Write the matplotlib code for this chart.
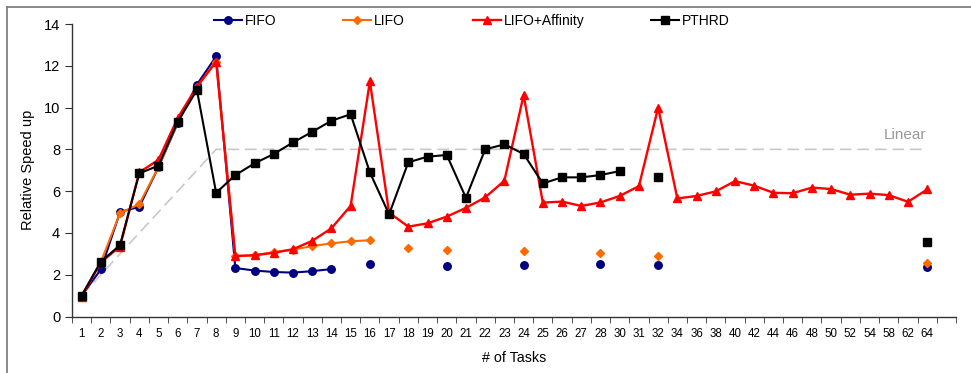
import numpy as np
import matplotlib
matplotlib.use("Agg")
import matplotlib.pyplot as plt
from matplotlib.lines import Line2D

nan = np.nan
categories = [str(i) for i in range(1, 29)] + ['30', '31', '32'] + \
    [str(i) for i in range(34, 55, 2)] + ['58', '62', '64']

fifo = [1.0, 2.25, 5.0, 5.25, 7.15, 9.25, 11.1, 12.45,
        2.32, 2.2, 2.13, 2.1, 2.17, 2.27, nan, 2.5,
        nan, nan, nan, 2.42, nan, nan, nan, 2.45, nan, nan, nan, 2.5,
        nan, nan, 2.45] + [nan] * 13 + [2.35]

lifo = [1.0, 2.6, 4.95, 5.38, 7.15, 9.3, 11.0, 12.2,
        2.88, 2.93, 3.08, 3.2, 3.37, 3.5, 3.6, 3.65,
        nan, 3.26, nan, 3.2, nan, nan, nan, 3.12, nan, nan, nan, 3.04,
        nan, nan, 2.88] + [nan] * 13 + [2.55]

lifo_aff = [0.95, 2.6, 3.35, 6.9, 7.5, 9.5, 11.0, 12.2,
            2.9, 2.93, 3.05, 3.22, 3.62, 4.22, 5.3, 11.25,
            4.97, 4.3, 4.46, 4.78, 5.2, 5.7, 6.5, 10.6, 5.45, 5.5, 5.29, 5.46,
            5.77, 6.24, 10.0,
            5.65, 5.77, 5.99, 6.48, 6.26, 5.92, 5.9, 6.17, 6.1, 5.83, 5.88,
            5.81, 5.49, 6.08]

pthrd = [1.0, 2.62, 3.42, 6.85, 7.22, 9.32, 10.84, 5.92,
         6.77, 7.33, 7.78, 8.33, 8.84, 9.37, 9.68, 6.9,
         4.89, 7.38, 7.65, 7.73, 5.68, 8.0, 8.24, 7.78, 6.37, 6.66, 6.66, 6.77,
         6.96, nan, 6.66] + [nan] * 13 + [3.55]

linear = [1, 2, 3, 4, 5, 6, 7, 8] + [8] * 37

plt.rcParams['font.family'] = ['Liberation Sans', 'DejaVu Sans']

fig = plt.figure(figsize=(9.71, 3.73), dpi=100)
ax = fig.add_axes([72 / 971, 1 - 316.5 / 373, (956 - 72) / 971, (316.5 - 24) / 373])

x = np.arange(len(categories))

ax.plot(x, linear, color='#c8c8c8', lw=1.2, dashes=(7, 3.5), zorder=1)

series = [
    ('FIFO', fifo, '#000080', 'o', 5.4, 1.5),
    ('LIFO', lifo, '#ff6a00', 'D', 4.0, 1.5),
    ('LIFO+Affinity', lifo_aff, '#ff0000', '^', 6.0, 1.7),
    ('PTHRD', pthrd, '#000000', 's', 5.6, 1.5),
]
handles = []
for i, (name, vals, col, mk, ms, lw) in enumerate(series):
    ln, = ax.plot(x, np.array(vals, dtype=float), color=col, lw=lw, marker=mk,
                  ms=ms, mfc=col, mec=col, zorder=2 + i, label=name)
    handles.append(ln)

ax.text(42.85, 8.7, 'Linear', ha='center', va='center', color='#999999', fontsize=11)

ax.set_xlim(-0.5, 45.5)
ax.set_ylim(0, 14)
ax.set_yticks(range(0, 15, 2))
ax.set_xticks(x)
ax.set_xticklabels(categories, fontsize=8.3)
ax.set_xticks(np.arange(-0.5, 46, 1), minor=True)
ax.tick_params(axis='x', which='major', length=0, pad=8)
ax.tick_params(axis='x', which='minor', length=4, direction='out', color='#333333')
ax.tick_params(axis='y', length=5, direction='out', labelsize=10.5, color='#333333')
for s in ['top', 'right']:
    ax.spines[s].set_visible(False)
for s in ['left', 'bottom']:
    ax.spines[s].set_color('#333333')
    ax.spines[s].set_linewidth(1.0)

ax.set_ylabel('Relative Speed up', fontsize=10.5, labelpad=6)
ax.set_xlabel('# of Tasks', fontsize=10.3, labelpad=8)

# legends placed individually
legend_x = [218, 347, 477, 655]
for h, lx in zip(handles, legend_x):
    fig.legend([h], [h.get_label()], loc='center left',
               bbox_to_anchor=(lx / 971 - 0.004, 1 - 21 / 373),
               frameon=False, fontsize=10, handlelength=2.0,
               handletextpad=0.2, borderpad=0, borderaxespad=0)

# figure border
fig.add_artist(Line2D([7 / 971, 1], [1 - 7 / 373, 1 - 7 / 373],
                      transform=fig.transFigure, color='#808080', lw=1.3))
fig.add_artist(Line2D([7 / 971, 7 / 971], [0, 1 - 7 / 373],
                      transform=fig.transFigure, color='#808080', lw=1.3))

fig.savefig('out.png', dpi=100)
